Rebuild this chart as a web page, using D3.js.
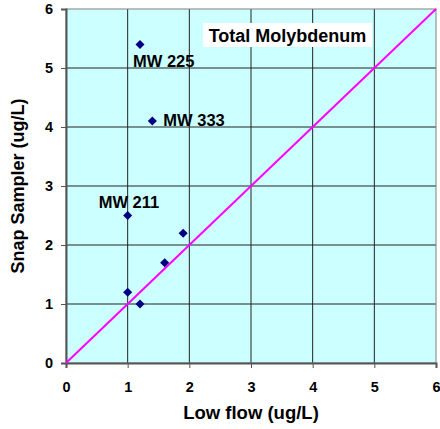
<!DOCTYPE html>
<html><head><meta charset="utf-8">
<script src="https://cdn.jsdelivr.net/npm/d3@7"></script>
<style>body{margin:0;background:#fff}svg{display:block}text{font-family:Arial,"Liberation Sans",sans-serif;font-weight:bold}</style>
</head><body><svg id="c" width="440" height="429"></svg>
<script>
const lowFlow = [1.2, 1.4, 1.0, 1.9, 1.6, 1.0, 1.2];
const snap    = [5.4, 4.1, 2.5, 2.2, 1.7, 1.2, 1.0];
const pointLabels = ["MW 225", "MW 333", "MW 211", "", "", "", ""];
const ticks = [0, 1, 2, 3, 4, 5, 6];
const title = "Total Molybdenum";
const xTitle = "Low flow (ug/L)";
const yTitle = "Snap Sampler (ug/L)";

const svg = d3.select("#c");
const L = 66, R = 436, T = 9, B = 363;
const x = d3.scaleLinear().domain([0, 6]).range([L, R]);
const y = d3.scaleLinear().domain([0, 6]).range([B, T]);

svg.append("rect").attr("x", L).attr("y", T).attr("width", R - L).attr("height", B - T).attr("fill", "#ccffff");

const g = svg.append("g");
g.selectAll(".vg").data(ticks.slice(1, -1)).join("line")
  .attr("x1", d => x(d)).attr("x2", d => x(d)).attr("y1", T).attr("y2", B)
  .attr("stroke", "#222").attr("stroke-width", 1);
g.selectAll(".hg").data(ticks.slice(1, -1)).join("line")
  .attr("y1", d => y(d)).attr("y2", d => y(d)).attr("x1", L).attr("x2", R)
  .attr("stroke", "#222").attr("stroke-width", 1);

svg.append("rect").attr("x", L).attr("y", T).attr("width", R - L).attr("height", B - T)
  .attr("fill", "none").attr("stroke", "#808080").attr("stroke-width", 1);

const xa = svg.append("g").attr("transform", `translate(0,${B})`)
  .call(d3.axisBottom(x).tickValues(ticks).tickFormat(d3.format("d")).tickSize(5).tickPadding(14));
const ya = svg.append("g").attr("transform", `translate(${L},0)`)
  .call(d3.axisLeft(y).tickValues(ticks).tickFormat(d3.format("d")).tickSize(5).tickPadding(8));
[xa, ya].forEach(a => {
  a.select(".domain").attr("stroke", "#555").attr("stroke-width", 2);
  a.selectAll(".tick line").attr("stroke", "#555");
  a.selectAll("text").attr("font-size", 14.5).attr("fill", "#000").style("font-family", "Arial, 'Liberation Sans', sans-serif").style("font-weight", "bold");
});

// 1:1 line
svg.append("line").attr("x1", x(0)).attr("y1", y(0)).attr("x2", x(6)).attr("y2", y(6))
  .attr("stroke", "#ff00ff").attr("stroke-width", 2);

// points
svg.selectAll(".pt").data(lowFlow.map((v, i) => [v, snap[i]])).join("path")
  .attr("d", d3.symbol(d3.symbolDiamond2 || d3.symbolDiamond, 52))
  .attr("transform", d => `translate(${x(d[0])},${y(d[1])})`)
  .attr("fill", "#000080");

const lblOff = [[-7, 23], [11, 5], [-29, -7.5]];
lowFlow.forEach((v, i) => {
  if (!pointLabels[i]) return;
  svg.append("text").attr("x", x(v) + lblOff[i][0]).attr("y", y(snap[i]) + lblOff[i][1])
    .attr("font-size", 16.5).text(pointLabels[i]);
});

// title box
svg.append("rect").attr("x", 203).attr("y", 23).attr("width", 169).attr("height", 24).attr("fill", "#fff");
svg.append("text").attr("x", 287.5).attr("y", 41.5).attr("text-anchor", "middle").attr("font-size", 18).text(title);

svg.append("text").attr("x", 251).attr("y", 419).attr("text-anchor", "middle").attr("font-size", 18.5).text(xTitle);
svg.append("text").attr("transform", `translate(24,${(T + B) / 2}) rotate(-90)`).attr("text-anchor", "middle").attr("font-size", 18).text(yTitle);
</script></body></html>
